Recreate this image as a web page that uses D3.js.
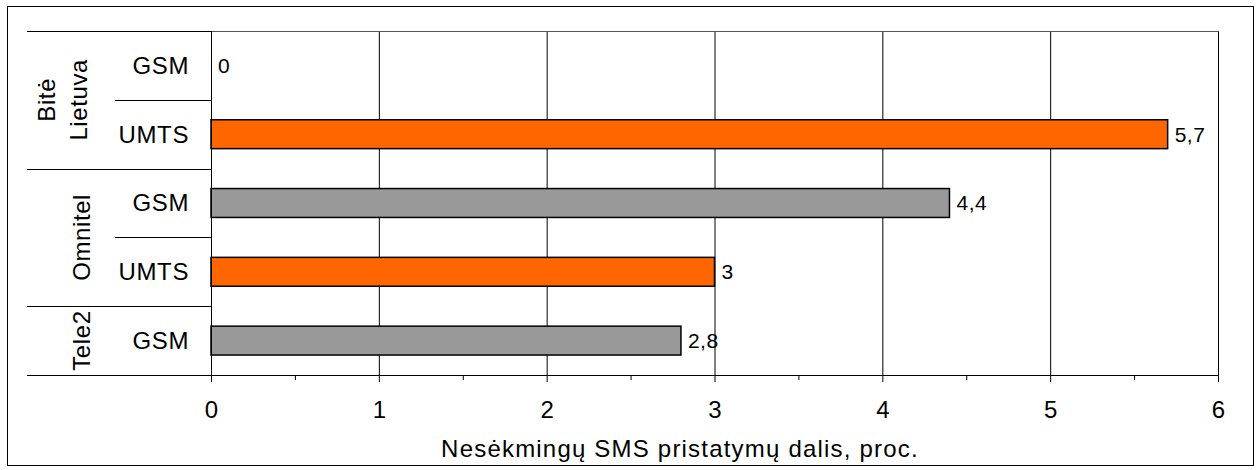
<!DOCTYPE html>
<html>
<head>
<meta charset="utf-8">
<script src="https://cdn.jsdelivr.net/npm/d3@7"></script>
<style>
  body { margin: 0; background: #fff; }
  text { font-family: "Liberation Sans", Arial, sans-serif; fill: #000; }
</style>
</head>
<body>
<div id="chart"></div>
<script>
// data
var operators = ["Bitė Lietuva", "Bitė Lietuva", "Omnitel", "Omnitel", "Tele2"];
var networks = ["GSM", "UMTS", "GSM", "UMTS", "GSM"];
var values = [0, 5.7, 4.4, 3, 2.8];
var valueLabels = ["0", "5,7", "4,4", "3", "2,8"];
var groups = [["Bitė", "Lietuva"], ["Omnitel"], ["Tele2"]];
var xTicks = [0, 1, 2, 3, 4, 5, 6];
var xTickLabels = ["0", "1", "2", "3", "4", "5", "6"];
var axisTitle = "Nesėkmingų SMS pristatymų dalis, proc.";

var colors = { GSM: "#999999", UMTS: "#ff6600" };

var W = 1260, H = 470;
var margin = { top: 31, right: 42, bottom: 95, left: 211 };
var fs = 24;

var svg = d3.select("#chart").append("svg")
    .attr("width", W)
    .attr("height", H);

// outer frame
svg.append("rect")
    .attr("x", 7.5).attr("y", 6.5)
    .attr("width", 1246).attr("height", 459)
    .attr("fill", "none").attr("stroke", "#000").attr("stroke-width", 1);

var x = d3.scaleLinear().domain([0, 6]).range([margin.left, 1218]);
var rows = d3.range(values.length);
var y = d3.scaleBand().domain(rows).range([margin.top, H - margin.bottom]).padding(0);
var barH = y.bandwidth() * 0.42;

var g = svg.append("g");

// vertical grid lines
g.selectAll(".grid")
    .data(xTicks.slice(1))
    .join("line")
    .attr("class", "grid")
    .attr("x1", d => x(d) + 0.5).attr("x2", d => x(d) + 0.5)
    .attr("y1", margin.top).attr("y2", H - margin.bottom)
    .attr("stroke", "#000").attr("stroke-width", 1);

// top border of plot
g.append("line")
    .attr("x1", x(0)).attr("x2", x(6) + 1)
    .attr("y1", margin.top + 0.5).attr("y2", margin.top + 0.5)
    .attr("stroke", "#555").attr("stroke-width", 1);

// bars
g.selectAll(".bar")
    .data(rows)
    .join("rect")
    .attr("class", "bar")
    .attr("x", x(0))
    .attr("y", i => y(i) + (y.bandwidth() - barH) / 2)
    .attr("width", i => x(values[i]) - x(0))
    .attr("height", barH)
    .attr("fill", i => colors[networks[i]])
    .attr("stroke", "#000").attr("stroke-width", 1.5)
    .style("display", i => values[i] > 0 ? null : "none");

// value labels
g.selectAll(".val")
    .data(rows)
    .join("text")
    .attr("class", "val")
    .attr("x", i => x(values[i]) + 7)
    .attr("y", i => y(i) + y.bandwidth() / 2)
    .attr("dy", "0.35em")
    .style("font-size", "21px")
    .style("letter-spacing", "0.5px")
    .text(i => valueLabels[i]);

// x axis
var xAxis = d3.axisBottom(x)
    .tickValues(xTicks)
    .tickFormat((d, i) => xTickLabels[i])
    .tickSize(7)
    .tickPadding(19);
var ax = g.append("g")
    .attr("transform", "translate(0," + (H - margin.bottom) + ")")
    .call(xAxis);
ax.select(".domain").attr("stroke", "#000").attr("d", "M" + x(0) + ",0.5H" + (x(6) + 1));
ax.selectAll("text").style("font-size", fs + "px").attr("fill", "#000");

// minor ticks
g.selectAll(".minor")
    .data(xTicks.slice(0, -1).map(d => d + 0.5))
    .join("line")
    .attr("class", "minor")
    .attr("x1", d => x(d) + 0.5).attr("x2", d => x(d) + 0.5)
    .attr("y1", H - margin.bottom).attr("y2", H - margin.bottom + 5)
    .attr("stroke", "#000");

// left axis line
g.append("line")
    .attr("x1", x(0) + 0.5).attr("x2", x(0) + 0.5)
    .attr("y1", margin.top).attr("y2", H - margin.bottom + 7)
    .attr("stroke", "#000").attr("stroke-width", 1);

// category separators
g.selectAll(".sep")
    .data(rows.concat([rows.length]))
    .join("line")
    .attr("class", "sep")
    .attr("x1", i => (i === 0 || i === rows.length || operators[i] !== operators[i - 1]) ? 27 : 115)
    .attr("x2", x(0))
    .attr("y1", i => Math.round(i < rows.length ? y(i) : y(rows.length - 1) + y.bandwidth()) + 0.5)
    .attr("y2", i => Math.round(i < rows.length ? y(i) : y(rows.length - 1) + y.bandwidth()) + 0.5)
    .attr("stroke", "#000").attr("stroke-width", 1);

// network labels
g.selectAll(".net")
    .data(rows)
    .join("text")
    .attr("class", "net")
    .attr("x", 189)
    .attr("y", i => y(i) + y.bandwidth() / 2)
    .attr("dy", "0.35em")
    .attr("text-anchor", "end")
    .style("font-size", fs + "px")
    .style("letter-spacing", "0.6px")
    .text(i => networks[i]);

// operator group labels (rotated)
var groupNames = ["Bitė Lietuva", "Omnitel", "Tele2"];
groupNames.forEach(function (name, gi) {
    var idx = rows.filter(i => operators[i] === name);
    var y0 = y(idx[0]), y1 = y(idx[idx.length - 1]) + y.bandwidth();
    var cy = (y0 + y1) / 2;
    var lines = groups[gi];
    var t = g.append("text")
        .attr("transform", "translate(" + (lines.length > 1 ? 62 : 82) + "," + cy + ") rotate(-90)")
        .attr("text-anchor", "middle")
        .style("font-size", fs + "px")
        .style("letter-spacing", "0.6px");
    lines.forEach(function (l, li) {
        t.append("tspan")
            .attr("x", 0)
            .attr("dy", li === 0 ? (lines.length > 1 ? "-0.3em" : "0.35em") : "1.35em")
            .text(l);
    });
});

// axis title
svg.append("text")
    .attr("x", 680)
    .attr("y", 457)
    .attr("text-anchor", "middle")
    .style("font-size", fs + "px")
    .style("letter-spacing", "1.2px")
    .text(axisTitle);
</script>
</body>
</html>
